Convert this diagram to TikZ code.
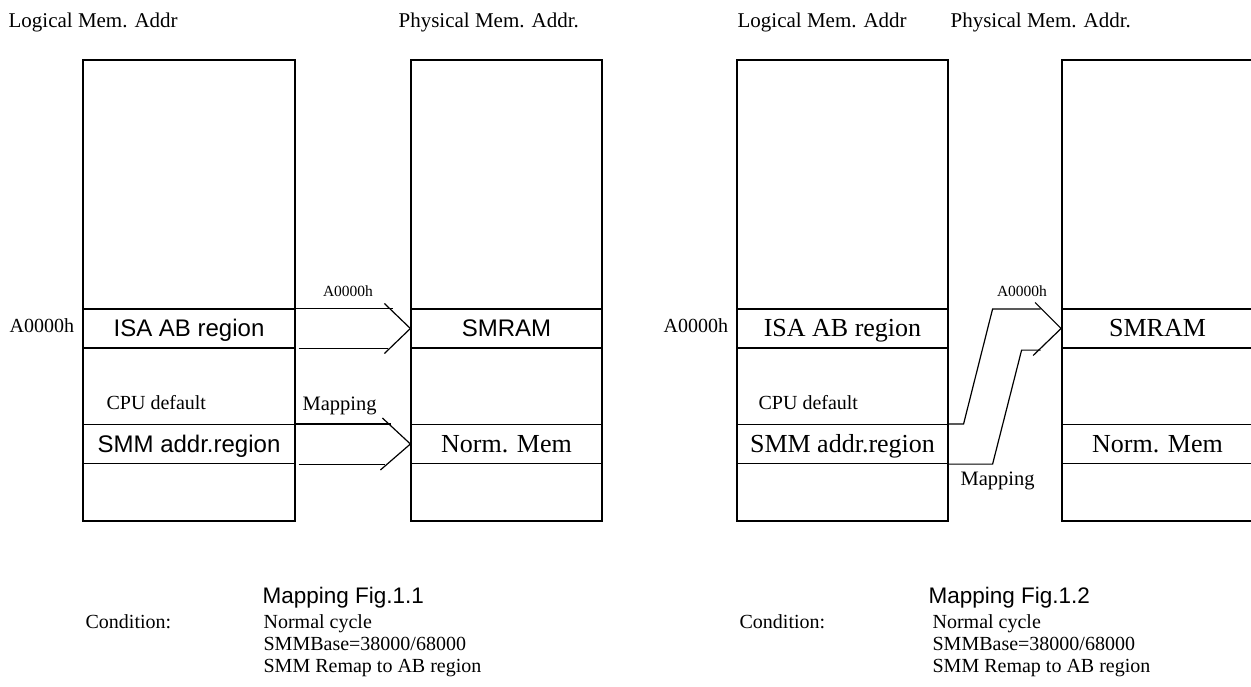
\documentclass[tikz,border=0pt]{standalone}
\usepackage{fontspec}
\setmainfont{Liberation Serif}
\newfontfamily\arialf{Liberation Sans}
\newcommand{\fsz}[1]{\fontsize{#1}{#1}\selectfont}

\begin{document}
\begin{tikzpicture}[x=1pt,y=-1pt,line width=1.2pt,line join=miter,
  memcol/.style={draw, rectangle, inner sep=0pt, minimum height=461pt},
  band/.style={draw, rectangle, inner sep=0pt, minimum height=39pt, text height=16pt, text depth=0pt, font=\fsz{26}},
  sansband/.style={band, font=\arialf\fsz{24}},
  hdr/.style={anchor=base west, inner sep=0pt, font=\fsz{21}},
  lbl/.style={anchor=base west, inner sep=0pt, font=\fsz{20}},
  tinylbl/.style={anchor=base, inner sep=0pt, font=\fsz{15.5}},
  figtitle/.style={anchor=base west, inner sep=0pt, font=\arialf\fsz{22.5}}]
\useasboundingbox (0,0) rectangle (1251,687);

%% Mapping Fig.1.1
\node[hdr] (hdrlog1) at (8,28) {Logical Mem. Addr};
\node[hdr] (hdrphys1) at (398,28) {Physical Mem. Addr.};
\node[memcol, minimum width=212pt] (log1) at (189,290.5) {};
\node[memcol, minimum width=191pt] (phys1) at (506.5,290.5) {};
\node[sansband, minimum width=212pt] (isa1) at (189,328.5) {ISA AB region};
\node[sansband, minimum width=212pt] (smm1) at (189,444) {SMM addr.region};
\node[sansband, minimum width=191pt] (smram1) at (506.5,328.5) {SMRAM};
\node[band, minimum width=191pt] (norm1) at (506.5,444) {Norm. Mem};
\node[lbl] (addr1) at (9,332) {A0000h};
\node[lbl] (cpu1) at (106,409) {CPU default};
\node[tinylbl] (top1) at (348,297) {A0000h};
\node[lbl, font=\fsz{20.5}] (map1) at (302,410) {Mapping};
\draw (isa1.north east) -- ++(97,0);
\draw ([xshift=3pt]isa1.south east) -- ++(89,0);
\draw ([shift={(-26,-25)}]smram1.west) -- (smram1.west) -- ([shift={(-26,25)}]smram1.west);
\draw (smm1.north east) -- ++(95,0);
\draw ([xshift=3pt]smm1.south east) -- ++(86,0);
\draw ([shift={(-28,-26)}]norm1.west) -- (norm1.west) -- ([shift={(-30,26)}]norm1.west);
\node[figtitle] (title1) at (262,603) {Mapping Fig.1.1};
\node[lbl] (cond1) at (85,628) {Condition:};
\node[lbl] (c1a) at (263,628) {Normal cycle};
\node[lbl] (c1b) at (263,650) {SMMBase=38000/68000};
\node[lbl] (c1c) at (263,672) {SMM Remap to AB region};

%% Mapping Fig.1.2
\node[hdr] (hdrlog2) at (737,28) {Logical Mem. Addr};
\node[hdr] (hdrphys2) at (950,28) {Physical Mem. Addr.};
\node[memcol, minimum width=211pt] (log2) at (842.5,290.5) {};
\node[memcol, minimum width=191pt] (phys2) at (1157.5,290.5) {};
\node[band, minimum width=211pt] (isa2) at (842.5,328.5) {ISA AB region};
\node[band, minimum width=211pt] (smm2) at (842.5,444) {SMM addr.region};
\node[band, minimum width=191pt, line width=1.8pt] (smram2) at (1157.5,328.5) {SMRAM};
\node[band, minimum width=191pt] (norm2) at (1157.5,444) {Norm. Mem};
\node[lbl] (addr2) at (663,332) {A0000h};
\node[lbl] (cpu2) at (758,409) {CPU default};
\node[tinylbl] (top2) at (1022,297) {A0000h};
\node[lbl, font=\fsz{20.5}] (map2) at (960,485) {Mapping};
\draw (smm2.north east) -- ++(15,0) -- ++(29,-115) -- ++(48,0);
\draw (smm2.south east) -- ++(44,0) -- ++(29,-114) -- ++(19,0);
\draw ([shift={(-26,-26)}]smram2.west) -- (smram2.west) -- ([shift={(-28,27)}]smram2.west);
\node[figtitle] (title2) at (928,603) {Mapping Fig.1.2};
\node[lbl] (cond2) at (739,628) {Condition:};
\node[lbl] (c2a) at (932,628) {Normal cycle};
\node[lbl] (c2b) at (932,650) {SMMBase=38000/68000};
\node[lbl] (c2c) at (932,672) {SMM Remap to AB region};
\end{tikzpicture}
\end{document}
